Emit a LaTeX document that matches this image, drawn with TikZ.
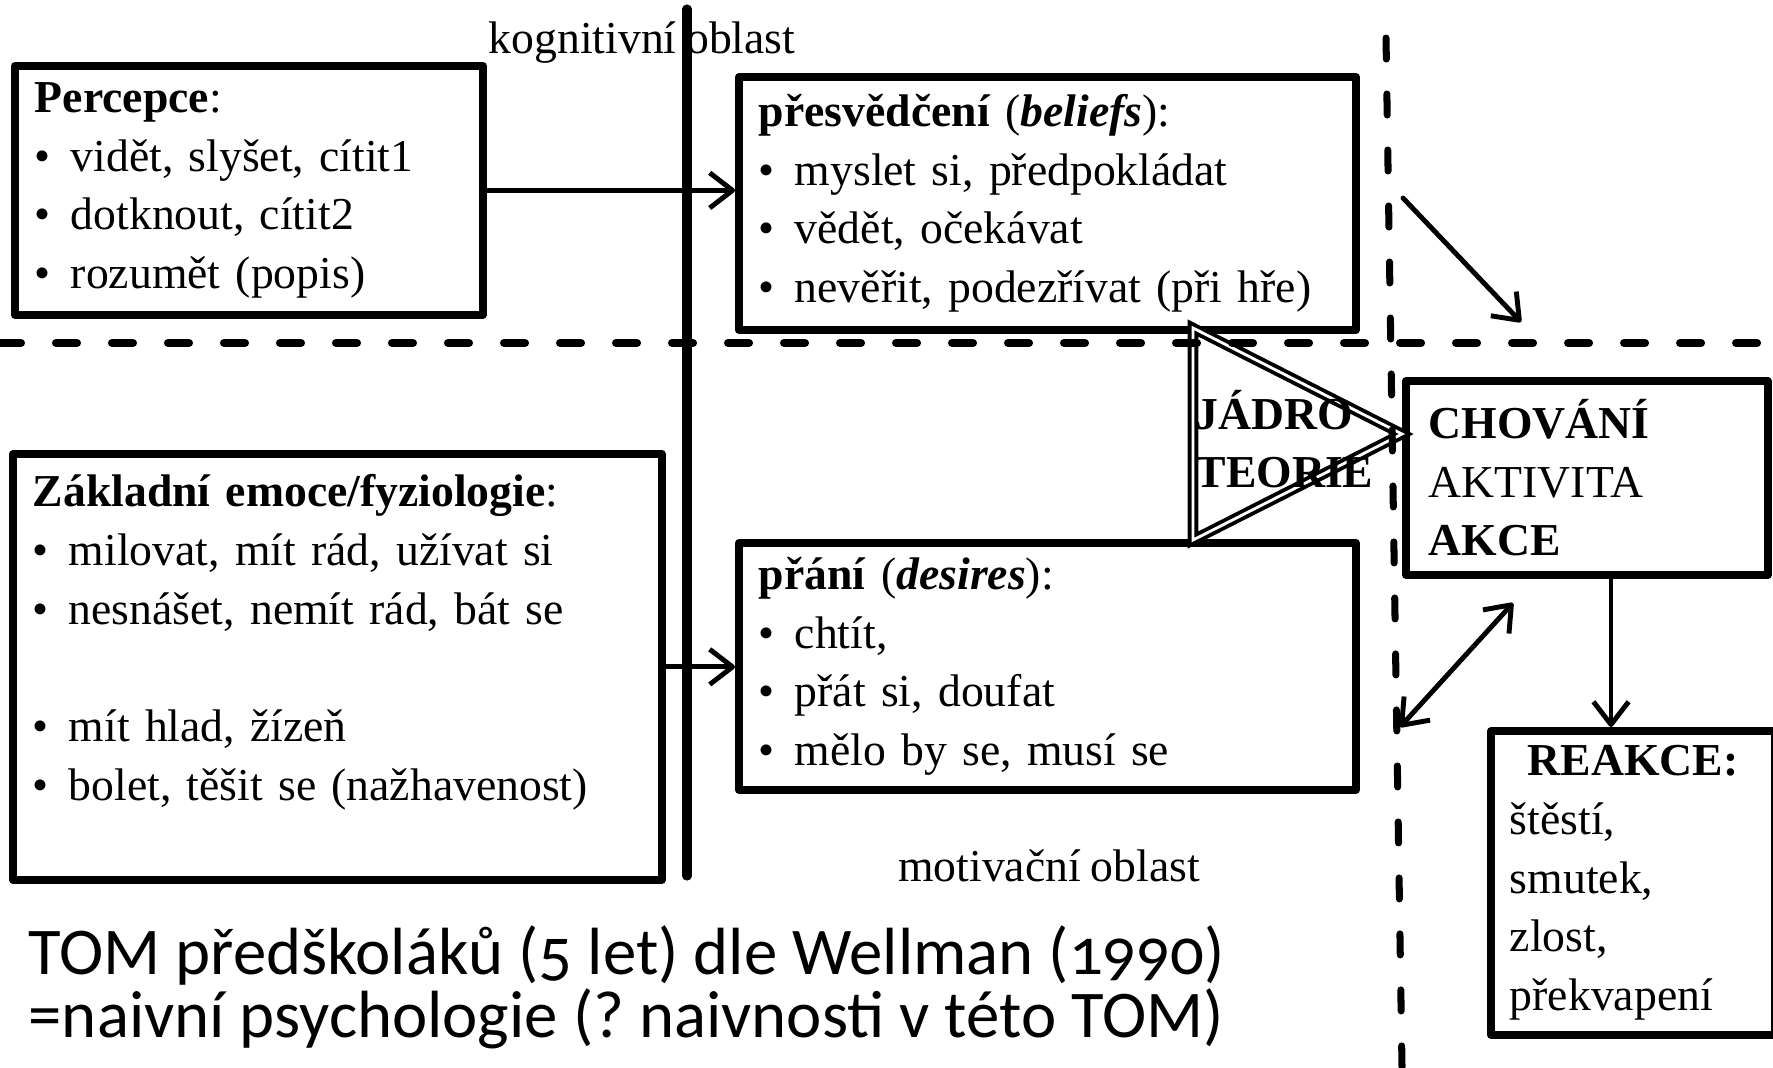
\documentclass[tikz,border=0pt]{standalone}
\usepackage{fontspec}
\setmainfont{Liberation Serif}
\newfontfamily\titlefont[Numbers=OldStyle]{Carlito}
\usetikzlibrary{arrows.meta}
\frenchspacing

% Font for the text in the boxes
\newcommand{\boxfont}{\fontsize{13}{16.7}\selectfont\spaceskip=0.21em plus 0.05em}
% Bullet of a list line
\newcommand{\bul}{\makebox[0.36cm][l]{\textbullet}}

\tikzset{
  box/.style={draw, line width=2.2pt, line join=round, rectangle, anchor=north west,
    align=left, inner xsep=0.2cm, inner ysep=0pt, font=\boxfont},
  arr/.style={line width=1.4pt, line cap=round,
    -{Straight Barb[length=6.5pt,width=10pt,line join=round]}},
  twoarr/.style={line width=1.4pt, line cap=round,
    {Straight Barb[length=6.5pt,width=10pt,line join=round]}-{Straight Barb[length=6.5pt,width=10pt,line join=round]}},
  divider/.style={line width=2.6pt, line cap=round},
  border/.style={line width=2.3pt, line cap=round, dash pattern=on 0.21cm off 0.35cm},
  core/.style={double, line width=1.1pt, double distance=0.8pt, line join=miter},
  areatext/.style={font=\boxfont, inner sep=0pt}
}

\begin{document}
\begin{tikzpicture}

  % Fix the canvas to the size of the reference
  \useasboundingbox (0,0) rectangle (17.73,-10.67);

  % Box of the perception
  \node[box, text width=4.28cm, minimum height=2.49cm] (perc) at (0.11,-0.62)
    {\textbf{Percepce}:\\ \bul vidět, slyšet, cítit1\\ \bul dotknout, cítit2\\ \bul rozumět (popis)};

  % Box of the beliefs
  \node[box, text width=5.77cm, minimum height=2.53cm] (belief) at (7.35,-0.73)
    {\textbf{přesvědčení} (\textbf{\textit{beliefs}}):\\ \bul myslet si, předpokládat\\
     \bul vědět, očekávat\\ \bul nevěřit, podezřívat (při hře)};

  % Box of the basic emotions
  \node[box, text width=6.09cm, minimum height=4.26cm] (emo) at (0.09,-4.50)
    {\textbf{Základní emoce/fyziologie}:\\ \bul milovat, mít rád, užívat si\\
     \bul nesnášet, nemít rád, bát se\\ \mbox{}\\ \bul mít hlad, žízeň\\
     \bul bolet, těšit se (nažhavenost)\\ \mbox{}};

  % Box of the desires
  \node[box, text width=5.77cm, minimum height=2.47cm] (wish) at (7.35,-5.39)
    {\textbf{přání} (\textbf{\textit{desires}}):\\ \bul chtít,\\ \bul přát si, doufat\\
     \bul mělo by se, musí se};

  % Box of the behaviour
  \node[box, inner xsep=0.23cm, text width=3.16cm, minimum height=1.94cm] (chov) at (14.02,-3.77)
    {\textbf{CHOVÁNÍ}\\ AKTIVITA\\ \textbf{AKCE}};

  % Box of the reactions
  \node[box, inner xsep=0.19cm, text width=2.46cm, minimum height=3.04cm] (reak) at (14.87,-7.27)
    {\makebox[\linewidth][c]{\textbf{REAKCE:}}\\ štěstí,\\ smutek,\\ zlost,\\ překvapení};

  % Triangle of the core of the theory
  \coordinate (tritop) at (11.93,-3.28);
  \coordinate (tribot) at (11.93,-5.40);
  \coordinate (triapex) at (14.02,-4.34);
  \draw[core] (tritop) -- (tribot) -- (triapex) -- cycle;
  \node[areatext, font=\boxfont\bfseries, align=left, anchor=west] (theory) at (11.95,-4.39)
    {JÁDRO\\ TEORIE};

  % Labels of the two areas
  \node[areatext] (cogn) at (6.42,-0.43) {kognitivní oblast};
  \node[areatext] (motiv) at (10.49,-8.66) {motivační oblast};

  % Line between the areas
  \draw[divider] (6.87,-0.09) -- (6.87,-8.76);

  % Dashed borders
  \draw[border] (0,-3.43) -- (17.73,-3.43);
  \draw[border, line width=2pt] (13.86,-0.38) -- (14.02,-10.67);

  % Arrows between the boxes
  \draw[arr] (perc.east) -- (perc.east -| belief.west);
  \draw[arr] (emo.east) -- (emo.east -| wish.west);
  \coordinate (drop) at (16.11,0);
  \draw[arr] (chov.south -| drop) -- (reak.north -| drop);

  % Free arrows at the dashed border
  \coordinate (inA) at (14.03,-1.98);
  \coordinate (inB) at (15.21,-3.22);
  \draw[arr] (inA) -- (inB);
  \coordinate (backA) at (14.00,-7.27);
  \coordinate (backB) at (15.13,-6.03);
  \draw[twoarr] (backA) -- (backB);

  % Title
  \node[inner sep=0pt, align=left, anchor=west, font=\titlefont\fontsize{19}{15.4}\selectfont] (title) at (0.28,-9.87)
    {TOM předškoláků (5 let) dle Wellman (1990)\\ =naivní psychologie (? naivnosti v této TOM)};

\end{tikzpicture}
\end{document}
